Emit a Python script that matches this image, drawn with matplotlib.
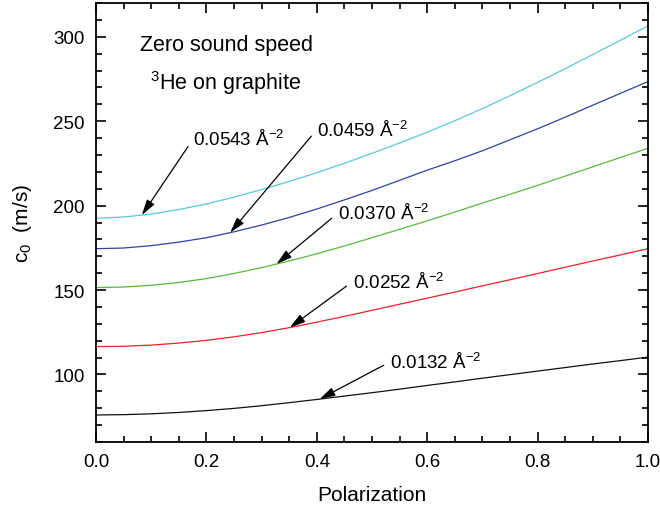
import matplotlib
matplotlib.use("Agg")
import matplotlib.pyplot as plt
import numpy as np
from matplotlib.ticker import MultipleLocator

plt.rcParams['font.family'] = ['Liberation Sans', 'DejaVu Sans']
plt.rcParams['mathtext.fontset'] = 'custom'
plt.rcParams['mathtext.rm'] = 'Liberation Sans'
plt.rcParams['mathtext.it'] = 'Liberation Sans:italic'

# polarizacion
pol = [0.0, 0.05, 0.1, 0.15, 0.2, 0.25, 0.3, 0.35, 0.4, 0.45, 0.5,
       0.55, 0.6, 0.65, 0.7, 0.75, 0.8, 0.85, 0.9, 0.95, 1.0]

# velocidad del sonido cero (m/s) para cada densidad
c_0543 = [192.5, 193.3, 195.0, 197.7, 201.0, 205.0, 209.5, 214.3, 219.5, 225.1, 231.0,
          237.1, 243.5, 250.3, 257.5, 265.1, 273.0, 281.1, 289.5, 297.9, 306.5]
c_0459 = [174.5, 174.9, 176.3, 178.4, 181.0, 184.5, 188.5, 193.0, 198.0, 203.4, 209.0,
          215.0, 221.0, 226.6, 232.5, 239.0, 245.5, 252.4, 259.5, 266.5, 273.5]
c_0370 = [151.5, 151.8, 152.8, 154.5, 156.8, 159.8, 163.3, 167.2, 171.5, 176.1, 181.0,
          186.0, 191.0, 196.2, 201.5, 206.7, 212.0, 217.5, 223.0, 228.5, 234.0]
c_0252 = [116.5, 116.7, 117.4, 118.6, 120.2, 122.3, 124.8, 127.7, 131.0, 134.4, 138.0,
          141.6, 145.2, 148.8, 152.5, 156.1, 159.8, 163.5, 167.2, 170.8, 174.5]
c_0132 = [76.0, 76.2, 76.7, 77.5, 78.6, 79.9, 81.5, 83.3, 85.2, 87.2, 89.2,
          91.3, 93.5, 95.6, 97.8, 99.9, 102.0, 104.1, 106.2, 108.2, 110.3]

densidades = ["0.0543", "0.0459", "0.0370", "0.0252", "0.0132"]
curvas = [c_0543, c_0459, c_0370, c_0252, c_0132]
colores = ['#5cc8dc', '#2c44a0', '#5cb83c', '#ec2228', '#111111']

# donde apunta cada flecha (polarizacion) y donde va el texto
flecha_p = [0.083, 0.243, 0.327, 0.351, 0.405]
texto_pos = [(0.176, 239.5), (0.400, 245.0), (0.438, 195.5), (0.465, 155.0), (0.533, 107.5)]

fig = plt.figure(figsize=(6.6, 5.06), dpi=100)
ax = fig.add_axes([0.1455, 0.1245, 0.8363, 0.8675])

for c, col in zip(curvas, colores):
    ax.plot(pol, c, color=col, lw=0.9)

for dens, c, p, tp in zip(densidades, curvas, flecha_p, texto_pos):
    ax.annotate(dens + r" Å$^{-2}$", xy=(p, np.interp(p, pol, c)), xytext=tp,
                ha='left', va='center', fontsize=13.5,
                arrowprops=dict(arrowstyle='-|>,head_length=0.7,head_width=0.2',
                                color='black', lw=0.9, shrinkA=3, shrinkB=0,
                                relpos=(0, 0.5)))

ax.text(0.08, 295.5, "Zero sound speed", fontsize=15.5, ha='left', va='center')
ax.text(0.097, 273, r"$^{3}$He on graphite", fontsize=15.5, ha='left', va='center')

ax.set_xlim(0, 1)
ax.set_ylim(60, 320)
ax.xaxis.set_major_locator(MultipleLocator(0.2))
ax.xaxis.set_minor_locator(MultipleLocator(0.05))
ax.yaxis.set_major_locator(MultipleLocator(50))
ax.yaxis.set_minor_locator(MultipleLocator(10))
ax.tick_params(which='both', direction='in', top=True, right=True, width=1.2)
ax.tick_params(which='major', length=7, labelsize=13.5, pad=8)
ax.tick_params(which='minor', length=4)
for s in ax.spines.values():
    s.set_linewidth(1.3)

ax.set_xlabel("Polarization", fontsize=15, labelpad=11)
ax.set_ylabel(r"c$_0$  (m/s)", fontsize=15, labelpad=14)

fig.savefig("out.png", dpi=100)
